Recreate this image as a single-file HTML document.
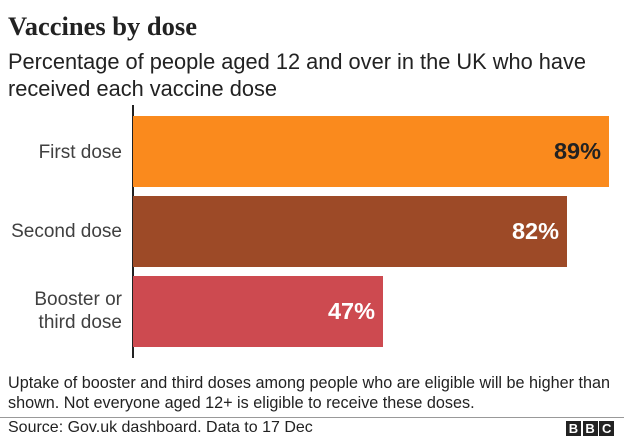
<!DOCTYPE html>
<html><head><style>
body{margin:0;width:624px;height:438px;background:#fff;position:relative;overflow:hidden;font-family:"Liberation Sans",sans-serif;color:#222}
div{position:absolute;white-space:nowrap}
.t{left:8px;top:11px;font-family:"Liberation Serif",serif;font-weight:bold;font-size:26.5px}
.s{left:8px;top:48px;font-size:21.8px;line-height:27px}
.bar{left:133px;height:71px}
.lab{font-size:19px;color:#404040;right:502px;text-align:right;line-height:23px}
.v{font-weight:bold;font-size:23.5px;top:22px}
.n{left:8px;top:373px;font-size:16.2px;line-height:20px}
</style></head><body>
<div class="t">Vaccines by dose</div>
<div class="s">Percentage of people aged 12 and over in the UK who have<br>received each vaccine dose</div>
<div style="left:132px;top:105px;width:1.5px;height:253px;background:#222"></div>
<div class="bar" style="top:116px;width:476px;background:#fa8a1d"><div class="v" style="right:8px;color:#222">89%</div></div>
<div class="bar" style="top:196px;width:434px;background:#9d4a27"><div class="v" style="right:8px;color:#fff">82%</div></div>
<div class="bar" style="top:276px;width:250px;background:#cd4a50"><div class="v" style="right:8px;color:#fff">47%</div></div>
<div class="lab" style="top:141px">First dose</div>
<div class="lab" style="top:220px">Second dose</div>
<div class="lab" style="top:288px">Booster or<br>third dose</div>
<div class="n">Uptake of booster and third doses among people who are eligible will be higher than<br>shown. Not everyone aged 12+ is eligible to receive these doses.</div>
<div style="left:0;top:417px;width:624px;height:1px;background:#999"></div>
<div style="left:8px;top:419px;font-size:16px">Source: Gov.uk dashboard. Data to 17 Dec</div>
<div style="left:566px;top:421px;font-size:13px;font-weight:bold;color:#fff">
<span style="display:inline-block;width:15px;height:15px;background:#222;text-align:center;line-height:15px">B</span>
<span style="display:inline-block;width:15px;height:15px;background:#222;text-align:center;line-height:15px;margin-left:-2px">B</span>
<span style="display:inline-block;width:15px;height:15px;background:#222;text-align:center;line-height:15px;margin-left:-2px">C</span></div>
</body></html>
